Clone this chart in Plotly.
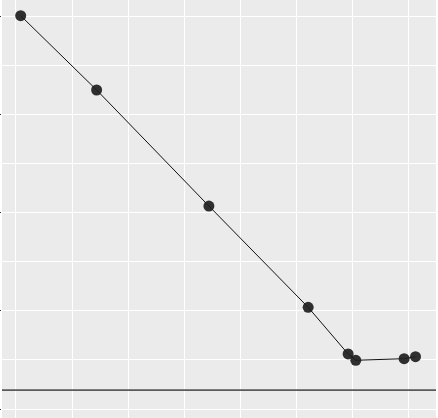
import plotly.graph_objects as go

x_vals = [0.084, 1.437, 3.438, 5.207, 5.919, 6.056, 6.917, 7.12]
y_vals = [400.3, 324.7, 206.6, 103.5, 56.0, 49.6, 51.2, 53.2]
hline_y = 19.3

fig = go.Figure()
fig.add_trace(go.Scatter(
    x=x_vals, y=y_vals, mode="lines+markers",
    line=dict(color="#111111", width=1),
    marker=dict(color="rgba(30,30,30,0.92)", size=11),
    showlegend=False,
))
fig.add_shape(type="line", xref="paper", x0=0, x1=1, yref="y", y0=hline_y, y1=hline_y,
              line=dict(color="#5a5a5a", width=1.8), layer="above")

fig.update_layout(
    width=438, height=418,
    margin=dict(l=2, r=2, t=0, b=0, autoexpand=False),
    paper_bgcolor="white",
    plot_bgcolor="#EBEBEB",
    xaxis=dict(range=[-0.249, 7.485], dtick=1, tick0=0, showgrid=True,
               gridcolor="white", gridwidth=1.1, zeroline=False, automargin=False,
               showticklabels=False, ticks=""),
    yaxis=dict(range=[-9.16, 416.3], dtick=100, tick0=0, showgrid=True,
               gridcolor="white", gridwidth=1.1, zeroline=False, automargin=False,
               showticklabels=False, ticks="outside", ticklen=2,
               tickcolor="#333333", tickwidth=1,
               minor=dict(dtick=50, tick0=0, showgrid=True, gridcolor="white", gridwidth=0.6)),
)
fig.write_html("out.html", config={"displayModeBar": False},
               post_script="document.body.style.margin='0';document.body.style.overflow='hidden';")
